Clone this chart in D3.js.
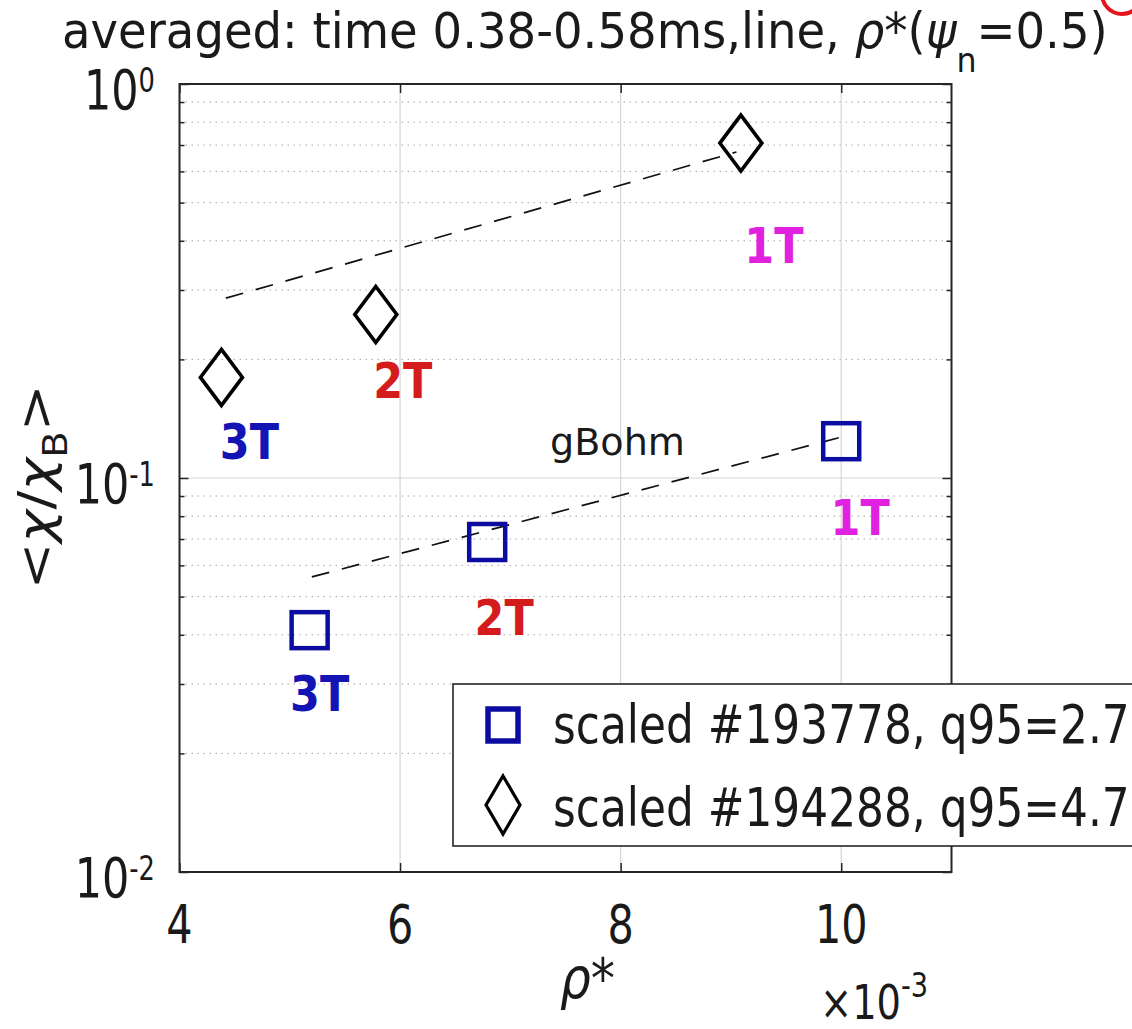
<!DOCTYPE html>
<html><head><meta charset="utf-8">
<script src="https://cdn.jsdelivr.net/npm/d3@7"></script>
<style>
body{margin:0;background:#fff}
svg{display:block}
text{font-family:"DejaVu Sans",sans-serif;fill:#1a1a1a}
</style>
</head><body>
<svg id="chart" width="1132" height="1029"></svg>
<script>
// Field scan labels, shared by both shots
const fields = ["3T", "2T", "1T"];
// Shot #193778 (q95 = 2.7): rho* and averaged chi/chi_B
const rhoSquare = [5.18e-3, 6.79e-3, 10.0e-3];
const chiSquare = [0.0411, 0.0688, 0.124];
// Shot #194288 (q95 = 4.7)
const rhoDiamond = [4.38e-3, 5.78e-3, 9.09e-3];
const chiDiamond = [0.180, 0.260, 0.708];
// gyro-Bohm reference lines (end points)
const gbSquareRho = [5.2e-3, 10.0e-3];
const gbSquareChi = [0.0561, 0.127];
const gbDiamondRho = [4.42e-3, 9.05e-3];
const gbDiamondChi = [0.286, 0.672];
// Axis ticks
const xTicks = [4e-3, 6e-3, 8e-3, 10e-3];
const yTicks = [0.01, 0.1, 1];
const legendLabels = ["scaled #193778, q95=2.7", "scaled #194288, q95=4.7"];

// ---- layout ----
const L = 179.5, R = 951.5, T = 84, B = 872;
const fieldColor = {"3T": "#1414b4", "2T": "#d41c1c", "1T": "#e021e0"};
const squareColor = "#0c0ca0";
// label placement relative to each marker (px)
const squareLabelOffset = [[10, 81], [17, 93], [19, 94]];
const diamondLabelOffset = [[28, 82], [27, 83], [33, 120]];

const svg = d3.select("#chart");
const x = d3.scaleLinear().domain([4e-3, 11e-3]).range([L, R]);
const y = d3.scaleLog().domain([0.01, 1]).range([B, T]);

// text helper: horizontally condensed text anchored at (px, py)
function label(parent, px, py, sx, anchor) {
  const g = parent.append("g").attr("transform", `translate(${px},${py}) scale(${sx},1)`);
  return g.append("text").attr("text-anchor", anchor || "start");
}
function fitWidth(textSel, px, py, target) {
  const w = textSel.node().getBBox().width;
  textSel.node().parentNode.setAttribute("transform", `translate(${px},${py}) scale(${target / w},1)`);
}

// ---- grid ----
const grid = svg.append("g");
const minorY = [];
yTicks.slice(0, -1).forEach(d => { for (let k = 2; k <= 9; k++) minorY.push(d * k); });
grid.selectAll(".minor").data(minorY).join("line")
  .attr("x1", L).attr("x2", R).attr("y1", d => y(d)).attr("y2", d => y(d))
  .attr("stroke", "#a9a9a9").attr("stroke-width", 1).attr("stroke-dasharray", "1.5,4.5");
grid.selectAll(".majx").data(xTicks).join("line")
  .attr("x1", d => x(d)).attr("x2", d => x(d)).attr("y1", T).attr("y2", B)
  .attr("stroke", "#d6d6d6").attr("stroke-width", 1.2);
grid.selectAll(".majy").data(yTicks).join("line")
  .attr("x1", L).attr("x2", R).attr("y1", d => y(d)).attr("y2", d => y(d))
  .attr("stroke", "#d6d6d6").attr("stroke-width", 1.2);

// ---- gyro-Bohm lines ----
const line = d3.line().x(d => x(d[0])).y(d => y(d[1]));
[[gbSquareRho, gbSquareChi], [gbDiamondRho, gbDiamondChi]].forEach(([r, c]) => {
  svg.append("path").datum(r.map((v, i) => [v, c[i]])).attr("d", line)
    .attr("fill", "none").attr("stroke", "#111").attr("stroke-width", 1.7)
    .attr("stroke-dasharray", "18,13");
});

// ---- markers ----
const sqSide = 36;
svg.append("g").selectAll("rect").data(rhoSquare).join("rect")
  .attr("x", (d) => x(d) - sqSide / 2).attr("y", (d, i) => y(chiSquare[i]) - sqSide / 2)
  .attr("width", sqSide).attr("height", sqSide)
  .attr("fill", "none").attr("stroke", squareColor).attr("stroke-width", 4.5);
const diamond = (cx, cy, hw, hh) => `M${cx},${cy - hh}L${cx + hw},${cy}L${cx},${cy + hh}L${cx - hw},${cy}Z`;
svg.append("g").selectAll("path").data(rhoDiamond).join("path")
  .attr("d", (d, i) => diamond(x(d), y(chiDiamond[i]), 21, 28))
  .attr("fill", "none").attr("stroke", "#000").attr("stroke-width", 3.6);

// ---- field labels ----
const labG = svg.append("g");
fields.forEach((f, i) => {
  const s = squareLabelOffset[i], dmo = diamondLabelOffset[i];
  label(labG, x(rhoSquare[i]) + s[0], y(chiSquare[i]) + s[1], 0.86, "middle")
    .attr("font-size", 50).attr("font-weight", "bold").style("fill", fieldColor[f]).text(f);
  label(labG, x(rhoDiamond[i]) + dmo[0], y(chiDiamond[i]) + dmo[1], 0.86, "middle")
    .attr("font-size", 50).attr("font-weight", "bold").style("fill", fieldColor[f]).text(f);
});

const gb = label(svg, 550, 455, 1, "start").attr("font-size", 37).text("gBohm");
fitWidth(gb, 550, 455, 135);

// ---- axes ----
const tickStyle = g => { g.select(".domain").remove(); g.selectAll(".tick line").attr("stroke", "#262626").attr("stroke-width", 1.5); };
svg.append("g").attr("transform", `translate(0,${B})`)
  .call(d3.axisBottom(x).tickValues(xTicks).tickSize(-9).tickFormat("")).call(tickStyle);
svg.append("g").attr("transform", `translate(0,${T})`)
  .call(d3.axisTop(x).tickValues(xTicks).tickSize(-9).tickFormat("")).call(tickStyle);
svg.append("g").attr("transform", `translate(${L},0)`)
  .call(d3.axisLeft(y).tickValues(yTicks).tickSize(-9).tickFormat("")).call(tickStyle);
svg.append("g").attr("transform", `translate(${R},0)`)
  .call(d3.axisRight(y).tickValues(yTicks).tickSize(-9).tickFormat("")).call(tickStyle);
svg.append("g").attr("transform", `translate(${L},0)`)
  .call(d3.axisLeft(y).tickValues(minorY).tickSize(-5).tickFormat("")).call(tickStyle);
svg.append("g").attr("transform", `translate(${R},0)`)
  .call(d3.axisRight(y).tickValues(minorY).tickSize(-5).tickFormat("")).call(tickStyle);
svg.append("rect").attr("x", L).attr("y", T).attr("width", R - L).attr("height", B - T)
  .attr("fill", "none").attr("stroke", "#262626").attr("stroke-width", 2);

// tick labels
xTicks.forEach(v => {
  label(svg, x(v), 943, 0.78, "middle").attr("font-size", 53).text(d3.format("d")(v * 1000));
});
yTicks.forEach(v => {
  const t = label(svg, 155, y(v) + 25, 0.78, "end").attr("font-size", 55);
  t.append("tspan").text("10");
  t.append("tspan").attr("font-size", 33).attr("dy", -17).text(String(Math.round(Math.log10(v))));
});
// x multiplier
const mult = label(svg, 820, 1019, 0.8, "start").attr("font-size", 48);
mult.append("tspan").text("\u00d710");
mult.append("tspan").attr("font-size", 34).attr("dy", -22).text("-3");

// axis titles
const xl = label(svg, 560, 998, 1, "start").attr("font-size", 56);
xl.append("tspan").attr("font-style", "italic").text("\u03c1");
xl.append("tspan").text("*");
fitWidth(xl, 560, 998, 55);

const ylG = svg.append("g").attr("transform", "translate(52,487) rotate(-90)");
const yl = label(ylG, 0, 0, 1, "middle").attr("font-size", 48);
yl.append("tspan").text("<");
yl.append("tspan").attr("font-style", "italic").text("\u03c7");
yl.append("tspan").text("/");
yl.append("tspan").attr("font-style", "italic").text("\u03c7");
yl.append("tspan").attr("font-size", 33).attr("dy", 15).text("B");
yl.append("tspan").attr("dy", -15).text(">");
fitWidth(yl, 0, 0, 205);

// title
const tt = label(svg, 62, 48, 1, "start").attr("font-size", 50);
tt.append("tspan").text("averaged: time 0.38-0.58ms,line, ");
tt.append("tspan").attr("font-style", "italic").text("\u03c1");
tt.append("tspan").text("*(");
tt.append("tspan").attr("font-style", "italic").text("\u03c8");
tt.append("tspan").attr("font-size", 34).attr("dy", 24).text("n");
tt.append("tspan").attr("dy", -24).text("=0.5)");
fitWidth(tt, 62, 48, 1046);

// ---- legend ----
const lg = svg.append("g");
lg.append("rect").attr("x", 453).attr("y", 684).attr("width", 760).attr("height", 162)
  .attr("fill", "#fff").attr("stroke", "#262626").attr("stroke-width", 1.6);
lg.append("rect").attr("x", 503 - 15).attr("y", 725 - 16).attr("width", 30).attr("height", 32)
  .attr("fill", "none").attr("stroke", squareColor).attr("stroke-width", 5.5);
lg.append("path").attr("d", diamond(503, 805, 17, 29))
  .attr("fill", "none").attr("stroke", "#000").attr("stroke-width", 3.2);
legendLabels.forEach((s, i) => {
  const by = 743 + i * 83;
  const t = label(lg, 553, by, 1, "start").attr("font-size", 53).text(s);
  fitWidth(t, 553, by, 577);
});

// corner mark
svg.append("circle").attr("cx", 1122).attr("cy", -6).attr("r", 20)
  .attr("fill", "none").attr("stroke", "#e8141c").attr("stroke-width", 4);
</script>
</body></html>
